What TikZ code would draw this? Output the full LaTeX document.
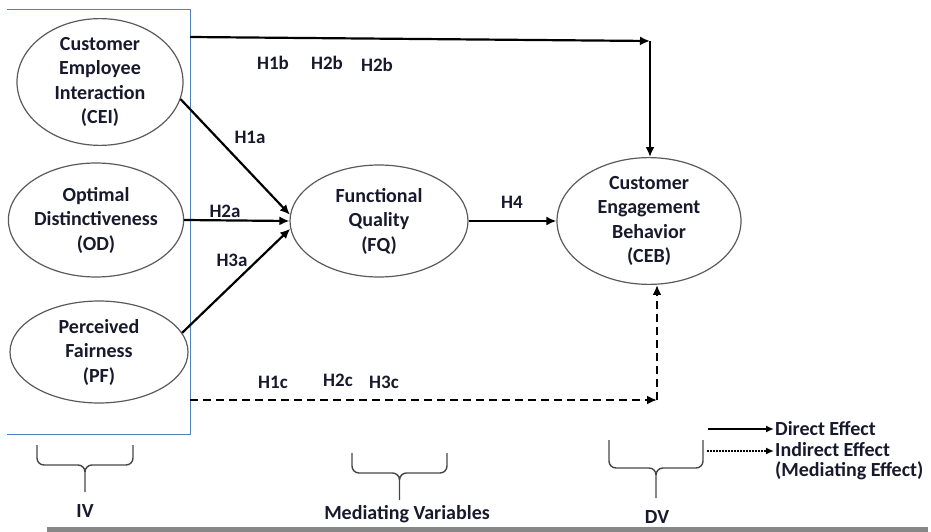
\documentclass[tikz,border=0pt]{standalone}
\usepackage{fontspec}
\setmainfont{Carlito}
\usetikzlibrary{arrows.meta,shapes.geometric}

\definecolor{boxblue}{RGB}{79,129,189}
\definecolor{ringgray}{RGB}{90,90,90}
\definecolor{inkdark}{RGB}{25,25,45}
\definecolor{bargray}{RGB}{135,135,135}
\definecolor{bracegray}{RGB}{70,70,70}

\tikzset{
  construct/.style={ellipse, draw=ringgray, line width=1.2pt, inner sep=0pt,
    text=inkdark, align=center, font=\fontsize{20}{24.5}\selectfont\bfseries},
  hyp/.style={text=inkdark, inner sep=0pt, font=\fontsize{19}{23}\selectfont\bfseries},
  grouplabel/.style={text=inkdark, inner sep=0pt, anchor=base,
    font=\fontsize{20}{24}\selectfont\bfseries},
  legendtext/.style={text=inkdark, inner sep=1pt, align=left,
    font=\fontsize{20}{20.5}\selectfont\bfseries},
  direct/.style={line width=2.2pt, -{Latex[length=10pt,width=9pt]}},
  indirect/.style={line width=2pt, dash pattern=on 8pt off 5pt, -{Latex[length=10pt,width=9pt]}},
  legdirect/.style={line width=2pt, -{Latex[length=8pt,width=7pt]}},
  legindirect/.style={line width=1.6pt, dash pattern=on 1.5pt off 1.5pt, -{Latex[length=8pt,width=7pt]}},
  groupline/.style={draw=bracegray, line width=1.4pt, rounded corners=7pt}
}

\newcommand{\groupbrace}[5]{%
  \draw[groupline]
  (#1,#3) -- (#1,#4) -- ({(#1+#2)/2},#4) -- ({(#1+#2)/2},#5)
  (#2,#3) -- (#2,#4) -- ({(#1+#2)/2},#4) -- ({(#1+#2)/2},#5);}

\begin{document}
\begin{tikzpicture}[x=1pt,y=-1pt]
\useasboundingbox (0,0) rectangle (931,532);
\draw[boxblue, line width=1pt] (7,10) -- (190,10) -- (190,434) -- (7,434);

\node[construct, minimum width=166pt, minimum height=116pt] (CEI) at (100,82) {Customer\\Employee\\Interaction\\(CEI)};
\node[construct, minimum width=166pt, minimum height=114pt] (OD) at (96,220) {Optimal\\Distinctiveness\\(OD)};
\node[construct, minimum width=178pt, minimum height=102pt] (PF) at (99,352) {Perceived\\Fairness\\(PF)};
\node[construct, minimum width=178pt, minimum height=112pt] (FQ) at (379,221) {Functional\\Quality\\(FQ)};
\node[construct, minimum width=184pt, minimum height=112pt] (CEB) at (649,221) {Customer\\Engagement\\Behavior\\(CEB)};

\coordinate (topstart) at (190,37);
\coordinate (topcorner) at (650,41);
\coordinate (dashstart) at (190,400);
\coordinate (dashcorner) at (657,400);

\draw[direct] (topstart) -- (topcorner);
\draw[direct] (topcorner) -- (topcorner |- CEB.north);
\draw[direct] (CEI.-12) -- (FQ.176);
\draw[direct] (OD.east) -- (FQ.west);
\draw[direct] (PF.13) -- (FQ.185);
\draw[direct] (FQ.east) -- (CEB.west);
\draw[indirect] (dashstart) -- (dashcorner);
\draw[indirect] (dashcorner) -- (dashcorner |- CEB.south);

\node[hyp] (h1b) at (273,63) {H1b};
\node[hyp] (h2b) at (327,63) {H2b};
\node[hyp] (h2bb) at (377,65) {H2b};
\node[hyp] (h1a) at (250,137) {H1a};
\node[hyp] (h2a) at (225,211) {H2a};
\node[hyp] (h3a) at (232,260) {H3a};
\node[hyp] (h4) at (512,202) {H4};
\node[hyp] (h1c) at (273,382) {H1c};
\node[hyp] (h2c) at (338,380) {H2c};
\node[hyp] (h3c) at (384,382) {H3c};

\groupbrace{37}{133}{445}{465}{492}
\groupbrace{352}{447}{453}{473}{500}
\groupbrace{609}{703}{440}{468}{498}
\node[grouplabel] (iv) at (85,517) {IV};
\node[grouplabel] (mv) at (407,519) {Mediating Variables};
\node[grouplabel] (dv) at (657,523) {DV};

\coordinate (legsolid) at (708,429);
\coordinate (legdotted) at (707,451);
\node[legendtext, anchor=west] (ldirect) at (774,429) {Direct Effect};
\node[legendtext, anchor=west] (lindirect) at (774,461) {Indirect Effect\\(Mediating Effect)};
\draw[legdirect] (legsolid) -- (legsolid -| ldirect.west);
\draw[legindirect] (legdotted) -- (legdotted -| lindirect.west);

\fill[bargray] (47,527) rectangle (928,532);
\end{tikzpicture}
\end{document}
